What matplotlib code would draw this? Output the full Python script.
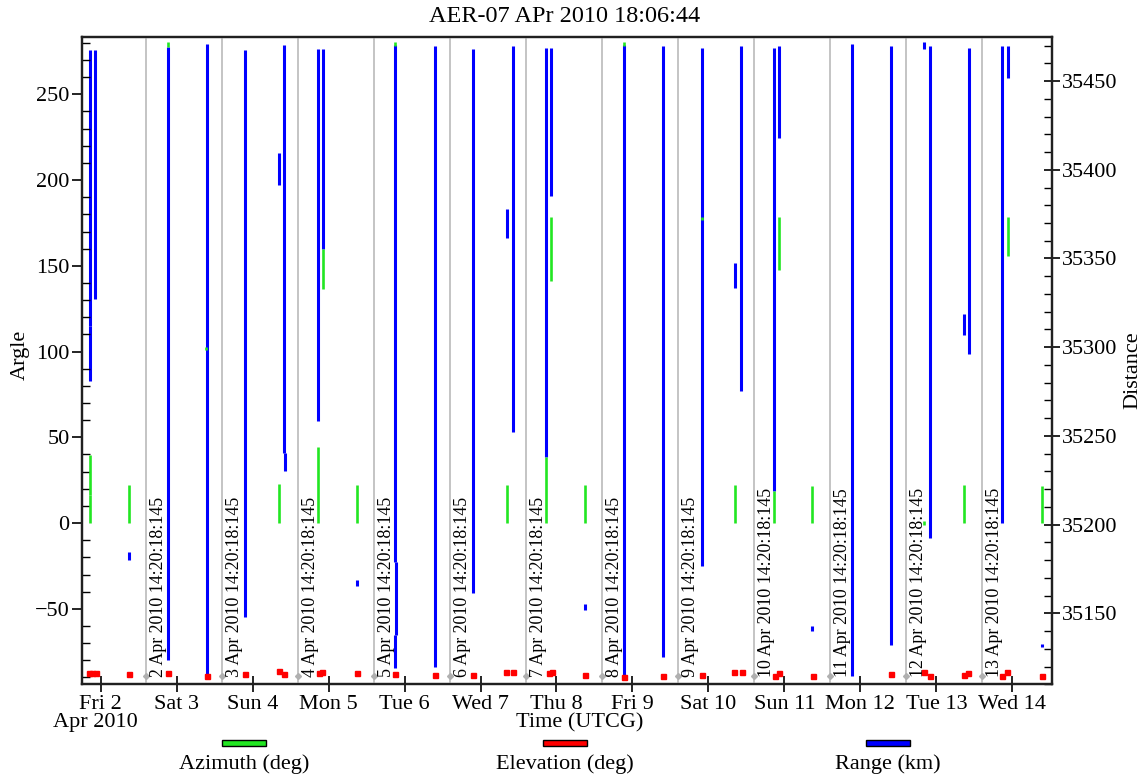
import matplotlib
matplotlib.use("Agg")
import matplotlib.pyplot as plt
import matplotlib.dates as mdates
from matplotlib.ticker import MultipleLocator
from matplotlib.patches import Rectangle

plt.rcParams['font.family'] = ['Liberation Serif', 'DejaVu Serif']

# ---------------- data ----------------
title = "AER-07 APr 2010 18:06:44"
t_start = "2010-04-01 18:06:44"
t_end = "2010-04-14 12:32:00"

# Range (km) segments: time, low, high
rng_t = ["2010-04-01 20:42", "2010-04-01 20:33", "2010-04-01 22:22", "2010-04-02 09:02",
         "2010-04-02 21:16", "2010-04-03 09:35", "2010-04-03 21:45", "2010-04-04 08:25",
         "2010-04-04 09:55", "2010-04-04 10:13", "2010-04-04 20:48", "2010-04-04 22:19",
         "2010-04-05 08:58", "2010-04-05 21:04", "2010-04-05 21:17", "2010-04-05 21:04",
         "2010-04-06 09:36", "2010-04-06 21:46", "2010-04-07 08:15", "2010-04-07 10:15",
         "2010-04-07 20:47", "2010-04-07 22:25", "2010-04-08 09:00", "2010-04-08 21:19",
         "2010-04-09 09:33", "2010-04-09 21:52", "2010-04-10 08:33", "2010-04-10 10:08",
         "2010-04-10 20:43", "2010-04-10 22:16", "2010-04-11 08:52", "2010-04-11 21:26",
         "2010-04-12 09:34", "2010-04-12 20:05", "2010-04-12 21:59", "2010-04-13 08:44",
         "2010-04-13 10:18", "2010-04-13 20:50", "2010-04-13 22:44", "2010-04-14 09:16"]
rng_lo = [35312, 35281, 35327, 35180, 35123.8, 35114.4, 35148.1, 35391.2,
          35240.2, 35230.1, 35258.6, 35355.2, 35165.3, 35179, 35137.8, 35119.3,
          35120, 35161.2, 35361.6, 35252, 35238, 35385, 35151.9, 35114.4,
          35125.3, 35176.7, 35333.5, 35275.1, 35218.7, 35417.8, 35140.2, 35114.4,
          35132.2, 35468, 35192.7, 35306.7, 35296.1, 35200.9, 35451.5, 35130.9]
rng_hi = [35467.6, 35312, 35467.6, 35184.6, 35469.3, 35471, 35467.6, 35409.2,
          35470.4, 35240.2, 35468.2, 35468.2, 35168.7, 35470.4, 35179, 35137.8,
          35469.7, 35468, 35377.7, 35469.7, 35468.9, 35468.9, 35155, 35470.4,
          35469.7, 35468.9, 35347.2, 35469.7, 35468.9, 35469.7, 35142.9, 35471,
          35469.7, 35472, 35469.7, 35318.5, 35468.9, 35469.7, 35469.7, 35132.8]

# Azimuth (deg) segments: time, low, high
az_t = ["2010-04-01 20:42", "2010-04-01 20:33", "2010-04-02 09:02", "2010-04-02 21:16",
        "2010-04-03 09:10", "2010-04-04 08:25", "2010-04-04 20:48", "2010-04-04 22:19",
        "2010-04-05 08:58", "2010-04-05 21:04", "2010-04-07 08:15", "2010-04-07 20:47",
        "2010-04-07 22:25", "2010-04-08 09:00", "2010-04-08 21:19", "2010-04-09 21:52",
        "2010-04-10 08:33", "2010-04-10 20:43", "2010-04-10 22:16", "2010-04-11 08:52",
        "2010-04-12 20:05", "2010-04-13 08:44", "2010-04-13 22:44", "2010-04-14 09:16"]
az_lo = [16.1, 0, 0, 277.5, 101, 0, 0, 136.2,
         0, 278, 0, 0, 140.9, 0, 278, 177,
         0, 0, 147.7, 0, -1, 0, 156.0, 0]
az_hi = [39.5, 16.1, 22.0, 280.5, 102.5, 22.6, 44.1, 160.1,
         22.0, 280.5, 22.0, 38.5, 178.2, 22.0, 280.5, 178.5,
         22.0, 18.5, 178.2, 21.4, 1.5, 22.0, 178.2, 21.4]

# Elevation (deg) samples
el_t = ["2010-04-01 20:13", "2010-04-01 21:15", "2010-04-01 22:31", "2010-04-02 09:02",
        "2010-04-02 21:16", "2010-04-03 09:35", "2010-04-03 21:41", "2010-04-04 08:25",
        "2010-04-04 09:55", "2010-04-04 20:52", "2010-04-04 21:55", "2010-04-05 08:58",
        "2010-04-05 21:08", "2010-04-06 09:36", "2010-04-06 21:46", "2010-04-07 08:12",
        "2010-04-07 10:15", "2010-04-07 21:38", "2010-04-07 22:34", "2010-04-08 09:00",
        "2010-04-08 21:20", "2010-04-09 09:33", "2010-04-09 21:52", "2010-04-10 08:04",
        "2010-04-10 10:30", "2010-04-10 21:01", "2010-04-10 22:22", "2010-04-11 08:56",
        "2010-04-12 09:34", "2010-04-12 20:05", "2010-04-12 21:59", "2010-04-13 08:44",
        "2010-04-13 10:05", "2010-04-13 20:50", "2010-04-13 22:13", "2010-04-14 09:16"]
el_v = [-87.6, -87.6, -87.6, -88.2, -87.6, -89.0, -88.2, -86.4,
        -88.2, -87.6, -87.0, -87.6, -88.2, -88.8, -88.8, -87.0,
        -87.0, -87.6, -87.0, -88.8, -89.6, -89.4, -88.8, -87.0,
        -87.0, -89.4, -87.3, -89.4, -88.2, -87.0, -89.0, -88.8,
        -87.3, -89.4, -87.0, -89.0]

# Event markers
event_t = ["2010-04-%02d 14:20:18.145" % d for d in range(2, 14)]
event_labels = ["%d Apr 2010 14:20:18:145" % d for d in range(2, 14)]

day_ticks = ["2010-04-%02d" % d for d in range(2, 15)]
day_labels = ["Fri 2", "Sat 3", "Sun 4", "Mon 5", "Tue 6", "Wed 7", "Thu 8",
              "Fri 9", "Sat 10", "Sun 11", "Mon 12", "Tue 13", "Wed 14"]

legend_names = ["Azimuth (deg)", "Elevation (deg)", "Range (km)"]
c_az, c_el, c_rng = "#22e622", "#ff0000", "#0000ff"

# ---------------- figure ----------------
W, H = 1145, 777
fig = plt.figure(figsize=(W / 100, H / 100), dpi=100)
L, R, T, B = 82, 1052, 36.7, 684.3
ax = fig.add_axes([L / W, 1 - B / H, (R - L) / W, (B - T) / H])
ax2 = ax.twinx()
ax.set_zorder(ax2.get_zorder() + 1)
ax.patch.set_visible(False)

d2n = mdates.datestr2num
ax.set_xlim(d2n(t_start), d2n(t_end))
ax.set_ylim(-94, 283.6)
ax2.set_ylim(35110, 35475)

# gray event lines
for t, lab in zip(event_t, event_labels):
    x = d2n(t)
    ax.axvline(x, color="#c4c4c4", lw=1.4, zorder=1)
    ax.plot([x], [-89.4], marker="D", ms=3, color="#b0b0b0", zorder=2)
    ax.annotate(lab, xy=(x, -90.2), xytext=(3, 0.5), textcoords="offset points",
                rotation=90, ha="left", va="bottom", fontsize=12.9, zorder=3)

ax2.vlines([d2n(t) for t in rng_t], rng_lo, rng_hi, color=c_rng, lw=2.2)
ax.vlines([d2n(t) for t in az_t], az_lo, az_hi, color=c_az, lw=1.9, zorder=4)
ax.plot([d2n(t) for t in el_t], el_v, ls="none", marker="s", ms=3.6,
        color=c_el, zorder=5)

# ticks
ax.set_xticks([d2n(t) for t in day_ticks])
ax.set_xticklabels(day_labels)
ax.tick_params(axis="x", direction="inout", length=11, width=1.2,
               labelsize=16, pad=2)
ax.yaxis.set_major_locator(MultipleLocator(50))
ax.yaxis.set_minor_locator(MultipleLocator(10))
ax.tick_params(axis="y", which="major", direction="out", length=7, width=1.2,
               labelsize=16, pad=2)
ax.tick_params(axis="y", which="minor", direction="in", length=6, width=1.0)
ax2.yaxis.set_major_locator(MultipleLocator(50))
ax2.yaxis.set_minor_locator(MultipleLocator(10))
ax2.tick_params(axis="y", which="major", direction="inout", length=12, width=1.2,
                labelsize=16, pad=1)
ax2.tick_params(axis="y", which="minor", direction="in", length=6, width=1.0)

for a in (ax, ax2):
    for s in a.spines.values():
        s.set_linewidth(1.6)
        s.set_color("#202020")

ax.set_ylabel("Argle", fontsize=16)
ax.yaxis.set_label_coords(-0.054, 0.508)
ax2.set_ylabel("Distance", fontsize=16)
ax2.yaxis.set_label_coords(1.0732, 0.485)

fig.text(565 / W, 1 - 16 / H, title, ha="center", va="center", fontsize=17.5)
fig.text(95 / W, 1 - 723 / H, "Apr 2010", ha="center", va="center", fontsize=16)
fig.text(580 / W, 1 - 723 / H, "Time (UTCG)", ha="center", va="center", fontsize=16)

# legend
leg_x = [222, 543, 866]
for x0, name, c in zip(leg_x, legend_names, [c_az, c_el, c_rng]):
    fig.patches.append(Rectangle((x0 / W, 1 - 746 / H), 44 / W, 6 / H,
                                 transform=fig.transFigure, facecolor=c,
                                 edgecolor="black", lw=1.0))
    fig.text((x0 + 22) / W, 1 - 764 / H, name, ha="center", va="center", fontsize=16)

fig.savefig("out.png", dpi=100)
